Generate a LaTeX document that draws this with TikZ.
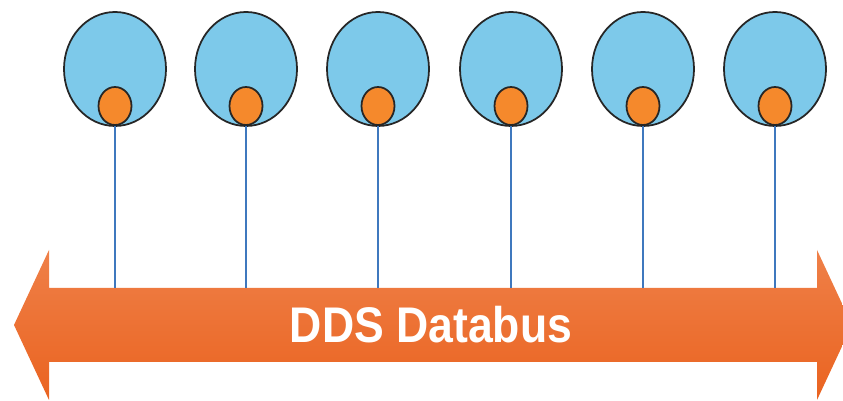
\documentclass[tikz,border=0pt]{standalone}
\usepackage{fontspec}
\setsansfont{Liberation Sans}
\usepackage{xcolor}
\usetikzlibrary{shapes.geometric, positioning}
\definecolor{nodeblue}{HTML}{7DC9EA}
\definecolor{portorange}{HTML}{F5892C}
\definecolor{linkblue}{HTML}{3F78BE}
\definecolor{bustop}{HTML}{EF8048}
\definecolor{busbottom}{HTML}{EA6320}
\tikzset{
    participant/.style={ellipse, draw=black!85, fill=nodeblue, line width=1pt, minimum width=20.4mm, minimum height=22.8mm, inner sep=0pt},
    port/.style={ellipse, draw=black!85, fill=portorange, line width=1pt, minimum width=6.6mm, minimum height=7.6mm, inner sep=0pt},
    link/.style={draw=linkblue, line width=1.5pt},
    buslabel/.style={text=white, font=\sffamily\bfseries\fontsize{28.5}{30}\selectfont, inner sep=0pt}
}

\begin{document}
\begin{tikzpicture}[x=0.2mm, y=-0.2mm]
            \useasboundingbox (0,0) rectangle (843,401);

            % Databus arrow
            \shade[top color=bustop, bottom color=busbottom]
                (14,325) -- (49,250) -- (49,288) -- (817,288) -- (817,250) -- (852,325)
                -- (817,400) -- (817,362) -- (49,362) -- (49,400) -- cycle;
            \coordinate (bartop) at (0,288);
            \node[buslabel] (bus) at (431,325) {\scalebox{0.89}[1]{DDS Databus}};

            % Participants
            \node[participant] (app1) at (115,69) {};
            \node[participant] (app2) at (246,69) {};
            \node[participant] (app3) at (378,69) {};
            \node[participant] (app4) at (511,69) {};
            \node[participant] (app5) at (643,69) {};
            \node[participant] (app6) at (775,69) {};

            % Ports on the bus
            \node[port] (port1) at (115,106) {};
            \node[port] (port2) at (246,106) {};
            \node[port] (port3) at (378,106) {};
            \node[port] (port4) at (511,106) {};
            \node[port] (port5) at (643,106) {};
            \node[port] (port6) at (775,106) {};

            % Links down to the bus
            \draw[link] (port1.south) -- (port1 |- bartop);
            \draw[link] (port2.south) -- (port2 |- bartop);
            \draw[link] (port3.south) -- (port3 |- bartop);
            \draw[link] (port4.south) -- (port4 |- bartop);
            \draw[link] (port5.south) -- (port5 |- bartop);
            \draw[link] (port6.south) -- (port6 |- bartop);
\end{tikzpicture}
\end{document}
